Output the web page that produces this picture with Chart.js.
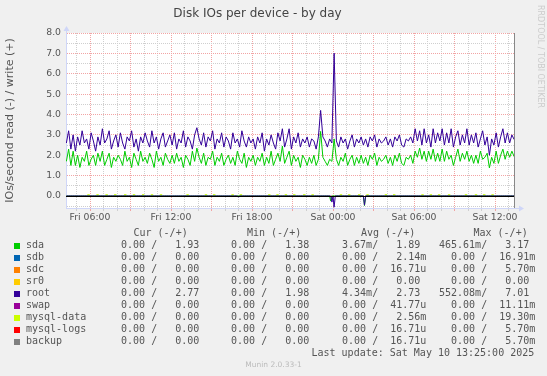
<!DOCTYPE html>
<html lang="en">
<head>
<meta charset="UTF-8">
<title>Disk IOs per device - by day</title>
<script src="https://cdn.jsdelivr.net/npm/chart.js"></script>
<style>
  html, body { margin: 0; padding: 0; background: #f0f0f0; }
  canvas { display: block; }
</style>
</head>
<body>
<canvas id="myChart" width="547" height="376"></canvas>
<script>
// time axis: hours since Fri 00:00
const xMin = 4.222;        // Fri 04:13
const xMax = 37.48;        // Sat 13:29
const startHour = 4.25;    // first sample Fri 04:15
const stepHours = 1 / 6;   // 10 minute samples
const lastUpdateHour = 37.4167;

const tickHours = [6, 12, 18, 24, 30, 36];
const tickLabels = ['Fri 06:00', 'Fri 12:00', 'Fri 18:00', 'Sat 00:00', 'Sat 06:00', 'Sat 12:00'];

// write (+) values, IOs/second
const rootWrite = [
  2.6, 3.2, 2.3, 3.0, 2.2, 2.9, 2.5, 3.2, 2.6, 2.8, 2.3, 3.1,
  2.7, 2.2, 2.9, 2.5, 3.3, 2.6, 2.8, 3.2, 2.3, 2.7, 3.0, 2.4,
  3.1, 2.6, 2.3, 2.9, 2.7, 3.2, 2.4, 2.8, 2.2, 2.9, 2.6, 3.1,
  2.7, 2.4, 3.2, 2.6, 2.9, 2.3, 2.8, 3.1, 2.4, 2.7, 3.0, 2.5,
  3.1, 2.3, 2.8, 2.6, 3.2, 2.4, 2.9, 2.7, 2.3, 3.0, 3.35, 2.8,
  2.5, 3.1, 2.4, 2.9, 2.7, 3.2, 2.3, 2.8, 2.6, 3.1, 2.4, 2.9,
  2.7, 2.3, 3.1, 2.6, 2.8, 2.4, 3.2, 2.7, 2.4, 2.9, 2.6, 2.8,
  2.3, 2.9, 2.6, 3.1, 2.2, 2.8, 2.5, 3.0, 2.6, 2.3, 3.1, 2.7,
  3.3, 2.4, 2.8, 3.3, 2.3, 2.9, 2.6, 3.1, 2.4, 2.8, 2.6, 2.9,
  2.4, 2.8, 2.7, 2.3, 2.9, 4.2, 2.9, 2.7, 2.4, 2.8, 2.6, 7.01,
  2.7, 2.4, 2.9, 2.6, 2.8, 2.3, 2.7, 3.0, 2.4, 2.8, 2.6, 2.9,
  2.5, 2.8, 2.4, 2.9, 2.7, 3.0, 2.4, 2.8, 2.6, 2.7, 2.9, 2.5,
  2.8, 2.4, 2.9, 2.7, 3.0, 2.5, 2.4, 2.8, 2.7, 2.9, 2.6, 3.3,
  2.7, 3.2, 2.5, 3.3, 2.6, 3.0, 2.4, 3.3, 2.6, 3.1, 2.7, 3.3,
  2.5, 3.1, 2.6, 3.3, 2.4, 2.9, 3.2, 2.5, 3.0, 2.6, 3.3, 2.5,
  3.0, 2.6, 3.1, 2.4, 2.8, 3.2, 2.5, 2.9, 2.0, 2.8, 2.5, 3.1,
  2.4, 2.9, 3.3, 2.6, 3.1, 2.6, 3.0, 2.77
];
const sdaWrite = [
  1.7, 2.3, 1.5, 2.2, 1.5, 2.0, 1.4, 1.9, 1.7, 2.2, 1.5, 1.8,
  2.0, 1.5, 2.1, 1.7, 2.2, 1.5, 1.8, 2.1, 1.4, 1.9, 1.7, 2.0,
  1.8, 1.5, 2.2, 1.7, 1.9, 1.4, 2.1, 1.8, 1.5, 2.2, 1.7, 1.9,
  1.6, 2.1, 1.8, 1.4, 2.2, 1.7, 1.9, 1.5, 2.1, 1.8, 1.6, 2.0,
  1.6, 2.1, 1.7, 1.9, 1.4, 2.0, 1.8, 1.5, 2.2, 1.7, 2.35, 1.9,
  1.6, 2.1, 1.5, 1.9, 1.8, 2.2, 1.5, 1.9, 1.7, 2.1, 1.5, 1.8,
  2.0, 1.6, 1.9, 1.5, 2.2, 1.8, 1.6, 2.1, 1.4, 1.9, 1.7, 2.0,
  1.5, 1.9, 1.7, 2.1, 1.5, 1.9, 1.6, 2.2, 1.5, 1.8, 2.1, 1.7,
  2.45, 1.6, 1.9, 2.2, 1.5, 2.0, 1.7, 1.9, 1.4, 2.0, 1.8, 1.5,
  1.9, 1.6, 2.0, 1.5, 1.8, 3.17, 1.9, 1.7, 1.5, 1.8, 1.7, 2.8,
  1.8, 1.5, 1.9, 1.7, 2.1, 1.5, 1.8, 2.0, 1.5, 1.9, 1.6, 2.0,
  1.6, 1.9, 1.5, 2.0, 1.8, 2.1, 1.5, 1.9, 1.7, 1.8, 2.0, 1.6,
  1.9, 1.5, 2.0, 1.7, 2.1, 1.6, 1.5, 1.9, 1.8, 2.0, 1.6, 2.2,
  1.9, 2.35, 1.8, 2.2, 1.7, 2.2, 1.8, 2.3, 1.7, 2.1, 1.7, 2.3,
  1.7, 2.2, 1.8, 2.0, 1.5, 1.9, 2.3, 1.7, 2.1, 1.8, 2.2, 1.7,
  2.0, 1.6, 2.0, 1.6, 2.2, 1.8, 1.9, 2.1, 1.38, 1.9, 1.6, 2.2,
  1.6, 2.0, 2.3, 1.8, 2.2, 1.9, 2.2, 1.93
];

// read (-) values as [hour, value]; flat zero between the dips
const rootRead = [
  [4.25, 0], [16.92, 0], [17.0, -0.06], [17.08, 0],
  [23.83, 0], [23.92, -0.3], [24.0, 0], [24.08, -0.55], [24.17, 0],
  [26.25, 0], [26.33, -0.45], [26.42, 0], [37.42, 0]
];
const sdaRead = [
  [4.25, 0], [23.75, 0], [23.83, -0.25], [23.92, 0],
  [26.25, 0], [26.33, -0.47], [26.42, 0], [37.42, 0]
];
// tiny mysql-data writes seen just above the zero line
const mysqlDataBumps = [
  [5.89, 0.05], [6.56, 0.05], [7.23, 0.05], [7.87, 0.05], [8.61, 0.05], [9.26, 0.05],
  [9.94, 0.05], [10.59, 0.05], [11.26, 0.05], [13.23, 0.05], [14.59, 0.05], [15.2, 0.05],
  [16.56, 0.05], [17.18, 0.05], [19.28, 0.05], [19.89, 0.05], [20.51, 0.05], [21.13, 0.05],
  [21.87, 0.05], [22.49, 0.05], [24.59, 0.05], [25.2, 0.05], [25.94, 0.05], [26.56, 0.05],
  [27.92, 0.05], [28.53, 0.05], [30.63, 0.05], [31.25, 0.05], [31.86, 0.05], [32.6, 0.05],
  [33.85, 0.05], [34.59, 0.05], [35.2, 0.05], [35.82, 0.05]
];

// legend table
const devNames = ['sda', 'sdb', 'sdc', 'sr0', 'root', 'swap', 'mysql-data', 'mysql-logs', 'backup'];
const devColors = ['#00cc00', '#0066b3', '#ff8000', '#ffcc00', '#330099', '#990099', '#ccff00', '#ff0000', '#808080'];
const curRead  = ['0.00', '0.00', '0.00', '0.00', '0.00', '0.00', '0.00', '0.00', '0.00'];
const curWrite = ['1.93', '0.00', '0.00', '0.00', '2.77', '0.00', '0.00', '0.00', '0.00'];
const minRead  = ['0.00', '0.00', '0.00', '0.00', '0.00', '0.00', '0.00', '0.00', '0.00'];
const minWrite = ['1.38', '0.00', '0.00', '0.00', '1.98', '0.00', '0.00', '0.00', '0.00'];
const avgRead  = ['3.67m', '0.00', '0.00', '0.00', '4.34m', '0.00', '0.00', '0.00', '0.00'];
const avgWrite = ['1.89', '2.14m', '16.71u', '0.00', '2.73', '41.77u', '2.56m', '16.71u', '16.71u'];
const maxRead  = ['465.61m', '0.00', '0.00', '0.00', '552.08m', '0.00', '0.00', '0.00', '0.00'];
const maxWrite = ['3.17', '16.91m', '5.70m', '0.00', '7.01', '11.11m', '19.30m', '5.70m', '5.70m'];

const grey = '#555555';
const axisBlue = '#cfd6f8';

function fmt(s) {
  // rrdtool style %6.2lf%s
  return /[a-z]$/.test(s) ? s.padStart(7) : s.padStart(6) + ' ';
}

const muninDecor = {
  id: 'muninDecor',
  beforeDraw(chart) {
    const { ctx, chartArea: a } = chart;
    ctx.save();
    ctx.fillStyle = '#f0f0f0';
    ctx.fillRect(0, 0, chart.width, chart.height);
    ctx.fillStyle = '#ffffff';
    ctx.fillRect(a.left, a.top, a.right - a.left, a.bottom - a.top);
    ctx.restore();
  },
  afterDatasetsDraw(chart) {
    const { ctx, chartArea: a, scales: { x, y } } = chart;
    ctx.save();
    ctx.lineWidth = 1;
    // zero rule
    const y0 = Math.round(y.getPixelForValue(0)) + 0.5;
    ctx.strokeStyle = '#000000';
    ctx.beginPath();
    ctx.moveTo(a.left, y0);
    ctx.lineTo(a.right, y0);
    ctx.stroke();
    // last update rule
    const xe = Math.round(x.getPixelForValue(lastUpdateHour)) + 0.5;
    ctx.strokeStyle = '#888888';
    ctx.beginPath();
    ctx.moveTo(xe, a.top);
    ctx.lineTo(xe, a.bottom);
    ctx.stroke();
    ctx.restore();
  },
  afterDraw(chart) {
    const { ctx, chartArea: a } = chart;
    ctx.save();
    // axis arrows
    ctx.strokeStyle = axisBlue;
    ctx.fillStyle = axisBlue;
    ctx.lineWidth = 1;
    ctx.beginPath();
    ctx.moveTo(a.left + 0.5, a.top);
    ctx.lineTo(a.left + 0.5, a.top - 3);
    ctx.moveTo(a.right, a.bottom + 0.5);
    ctx.lineTo(a.right + 5, a.bottom + 0.5);
    ctx.stroke();
    ctx.beginPath();
    ctx.moveTo(a.left - 2.5, a.top - 2);
    ctx.lineTo(a.left + 3.5, a.top - 2);
    ctx.lineTo(a.left + 0.5, a.top - 7);
    ctx.fill();
    ctx.beginPath();
    ctx.moveTo(a.right + 4, a.bottom - 2.5);
    ctx.lineTo(a.right + 4, a.bottom + 3.5);
    ctx.lineTo(a.right + 9, a.bottom + 0.5);
    ctx.fill();

    // legend table
    ctx.font = '10px "DejaVu Sans Mono"';
    ctx.fillStyle = grey;
    ctx.textBaseline = 'middle';
    ctx.textAlign = 'left';
    ctx.fillText('Cur (-/+)', 133.5, 233.5);
    ctx.fillText('Min (-/+)', 247, 233.5);
    ctx.fillText('Avg (-/+)', 361, 233.5);
    ctx.fillText('Max (-/+)', 473.5, 233.5);
    const colX = [109, 219, 330, 439];
    devNames.forEach((name, i) => {
      const ry = 245.7 + i * 12;
      ctx.fillStyle = devColors[i];
      ctx.fillRect(14, Math.round(ry) - 3, 6, 6);
      ctx.fillStyle = grey;
      ctx.fillText(name, 26, ry);
      const cols = [
        [curRead[i], curWrite[i]], [minRead[i], minWrite[i]],
        [avgRead[i], avgWrite[i]], [maxRead[i], maxWrite[i]]
      ];
      cols.forEach((c, j) => {
        ctx.fillText(fmt(c[0]) + '/ ' + fmt(c[1]), colX[j], ry);
      });
    });
    ctx.fillText('Last update: Sat May 10 13:25:00 2025', 311.5, 353.5);

    // watermarks
    ctx.font = '7.5px "DejaVu Sans"';
    ctx.fillStyle = '#bbbbbb';
    ctx.textAlign = 'center';
    ctx.fillText('Munin 2.0.33-1', 273.5, 365.5);
    ctx.translate(540, 5);
    ctx.rotate(Math.PI / 2);
    ctx.font = '8px "DejaVu Sans"';
    ctx.fillStyle = '#cccccc';
    ctx.textAlign = 'left';
    ctx.fillText('RRDTOOL / TOBI OETIKER', 0, 0);
    ctx.restore();
  }
};

const toPoints = arr => arr.map((v, i) => ({ x: startHour + i * stepHours, y: v }));
const pairPoints = arr => arr.map(([x, y]) => ({ x, y }));

const ctx = document.getElementById('myChart').getContext('2d');
new Chart(ctx, {
  type: 'line',
  data: {
    datasets: [
      { label: 'root', data: toPoints(rootWrite), borderColor: '#330099' },
      { label: 'sda', data: toPoints(sdaWrite), borderColor: '#00cc00' },
      { label: 'root read', data: pairPoints(rootRead), borderColor: '#330099' },
      { label: 'sda read', data: pairPoints(sdaRead), borderColor: '#00cc00' },
      {
        label: 'mysql-data', data: pairPoints(mysqlDataBumps), showLine: false,
        pointStyle: 'line', pointRadius: 1.2, pointBorderWidth: 1.5,
        pointBorderColor: '#ccff00', borderColor: '#ccff00'
      }
    ]
  },
  options: {
    responsive: false,
    animation: false,
    events: [],
    elements: {
      line: { borderWidth: 1, tension: 0 },
      point: { radius: 0 }
    },
    layout: { padding: { left: 0, right: 32, top: 0, bottom: 0 } },
    plugins: {
      legend: { display: false },
      tooltip: { enabled: false },
      title: {
        display: true,
        text: 'Disk IOs per device - by day',
        color: '#444444',
        font: { family: 'DejaVu Sans', size: 12, weight: 'normal', lineHeight: 1.2 },
        padding: { top: 6.5, bottom: 12.1 }
      }
    },
    scales: {
      x: {
        type: 'linear',
        min: xMin,
        max: xMax,
        afterFit: s => { s.height = 168; },
        ticks: {
          stepSize: 1,
          includeBounds: false,
          autoSkip: false,
          maxRotation: 0,
          minRotation: 0,
          padding: 1,
          color: grey,
          font: { family: 'DejaVu Sans', size: 9.3 },
          callback: v => {
            const i = tickHours.indexOf(v);
            return i >= 0 ? tickLabels[i] : '';
          }
        },
        grid: {
          color: c => (c.tick && c.tick.value % 3 === 0) ? '#f2a4a4' : '#cfcfcf',
          tickColor: c => (c.tick && c.tick.value % 3 === 0) ? '#f2a4a4' : '#cfcfcf',
          drawTicks: true,
          tickLength: 3,
          lineWidth: 1
        },
        border: { color: axisBlue, dash: [1, 1] }
      },
      y: {
        min: -0.59,
        max: 8.0,
        afterFit: s => { s.width = 66; },
        ticks: {
          stepSize: 0.5,
          includeBounds: false,
          autoSkip: false,
          padding: 5,
          color: grey,
          font: { family: 'DejaVu Sans', size: 9.3 },
          callback: v => Number.isInteger(v) ? v.toFixed(1) : ''
        },
        grid: {
          color: c => (c.tick && Number.isInteger(c.tick.value)) ? '#f2a4a4' : '#cfcfcf',
          drawTicks: false,
          lineWidth: 1
        },
        border: { color: axisBlue, dash: [1, 1] },
        title: {
          display: true,
          text: 'IOs/second read (-) / write (+)',
          color: grey,
          font: { family: 'DejaVu Sans', size: 11 },
          padding: { top: 3.5, bottom: 0 }
        }
      }
    }
  },
  plugins: [muninDecor]
});
</script>
</body>
</html>
